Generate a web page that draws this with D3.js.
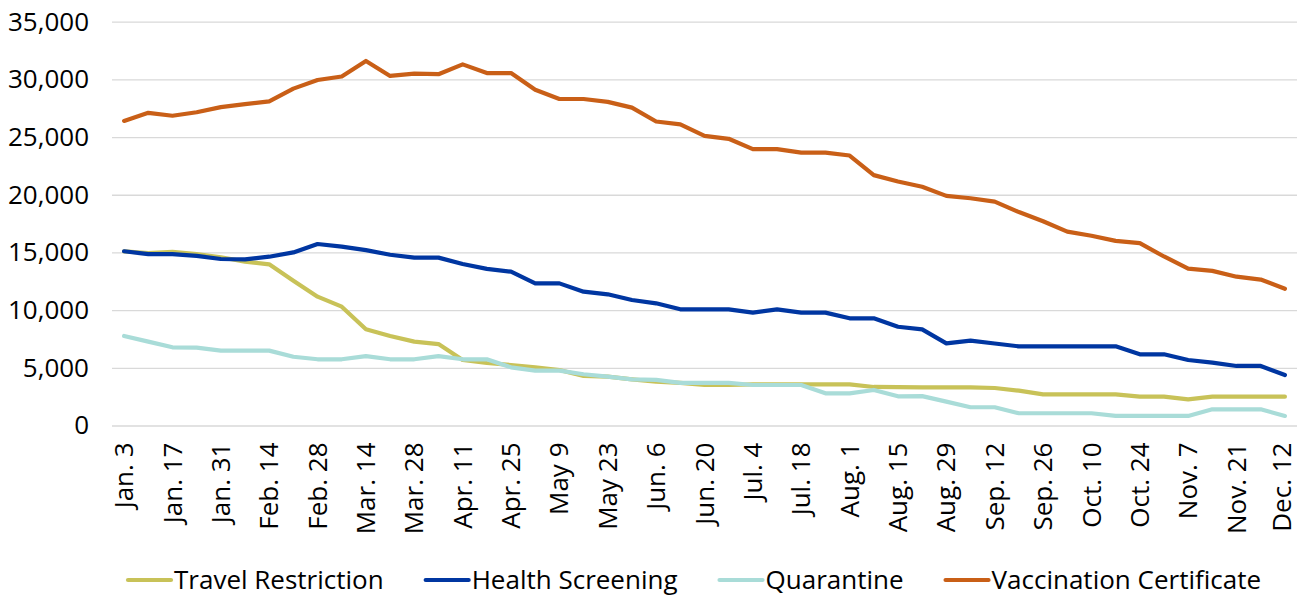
<!DOCTYPE html>
<html>
<head>
<meta charset="utf-8">
<script src="https://cdn.jsdelivr.net/npm/d3@7"></script>
<style>
  html, body { margin: 0; padding: 0; background: #ffffff; }
  svg { display: block; }
  text { font-family: "Open Sans", "Noto Sans", sans-serif; fill: #000; }
</style>
</head>
<body>
<svg id="chart" width="1299" height="596"></svg>
<script>
const categories = ["Jan. 3","Jan. 10","Jan. 17","Jan. 24","Jan. 31","Feb. 7","Feb. 14","Feb. 21","Feb. 28","Mar. 7",
  "Mar. 14","Mar. 21","Mar. 28","Apr. 4","Apr. 11","Apr. 18","Apr. 25","May 2","May 9","May 16",
  "May 23","May 30","Jun. 6","Jun. 13","Jun. 20","Jun. 27","Jul. 4","Jul. 11","Jul. 18","Jul. 25",
  "Aug. 1","Aug. 8","Aug. 15","Aug. 22","Aug. 29","Sep. 5","Sep. 12","Sep. 19","Sep. 26","Oct. 3",
  "Oct. 10","Oct. 17","Oct. 24","Oct. 31","Nov. 7","Nov. 14","Nov. 21","Nov. 28","Dec. 12"];

const travelRestriction = [15100,14950,15060,14860,14580,14200,13970,12550,11170,10300,
  8340,7760,7270,7060,5680,5420,5240,5040,4810,4290,
  4230,4000,3800,3700,3510,3510,3570,3570,3570,3570,
  3570,3340,3320,3310,3310,3310,3250,3020,2700,2700,
  2700,2700,2500,2500,2270,2500,2500,2500,2500];

const healthScreening = [15100,14850,14860,14700,14430,14400,14630,15000,15730,15500,
  15200,14800,14550,14550,14000,13580,13330,12320,12320,11600,
  11370,10880,10590,10070,10070,10070,9780,10070,9780,9780,
  9290,9290,8560,8330,7120,7350,7110,6860,6860,6860,
  6860,6860,6170,6170,5680,5450,5160,5160,4380];

const quarantine = [7760,7270,6780,6750,6490,6490,6490,5960,5740,5740,
  6020,5740,5740,6020,5740,5740,5040,4750,4750,4440,
  4230,4000,3950,3700,3700,3700,3510,3510,3510,2790,
  2790,3080,2530,2550,2070,1580,1580,1060,1060,1060,
  1060,830,830,830,830,1400,1400,1400,830];

const vaccinationCertificate = [26400,27100,26850,27150,27600,27850,28100,29200,29950,30250,
  31600,30300,30500,30450,31300,30550,30550,29100,28300,28300,
  28050,27550,26350,26100,25100,24850,23950,23950,23650,23650,
  23400,21700,21150,20700,19900,19700,19400,18500,17700,16800,
  16450,16000,15800,14650,13600,13400,12900,12650,11850];

const seriesNames = ["Travel Restriction","Health Screening","Quarantine","Vaccination Certificate"];
const seriesColors = ["#c8c258","#0036a1","#a9dcd8","#c95f17"];
const yTicks = [0,5000,10000,15000,20000,25000,30000,35000];

const seriesValues = [travelRestriction, healthScreening, quarantine, vaccinationCertificate];
const series = seriesNames.map((name, k) => ({ name, color: seriesColors[k], values: seriesValues[k] }));

const svg = d3.select("#chart");
const plotLeft = 112, plotRight = 1297, plotTop = 21.7, plotBottom = 425.5;

const x = d3.scalePoint().domain(categories).range([plotLeft, plotRight]).padding(0.5);
const y = d3.scaleLinear().domain([0, 35000]).range([plotBottom, plotTop]);

// gridlines + y axis
const yAxis = svg.append("g")
  .attr("transform", `translate(${plotLeft},0)`)
  .call(d3.axisLeft(y).tickValues(yTicks).tickFormat(d3.format(",")).tickSize(-(plotRight - plotLeft)).tickPadding(23));
yAxis.select(".domain").remove();
yAxis.selectAll(".tick line").attr("stroke", "#d9d9d9").attr("stroke-width", 1.3);
yAxis.selectAll(".tick text").attr("font-size", 26).attr("font-family", '"Open Sans", sans-serif').attr("fill", "#000");

// x axis
const xLabels = categories.filter((c, i) => i % 2 === 0);
const xAxis = svg.append("g")
  .attr("transform", `translate(0,${plotBottom})`)
  .call(d3.axisBottom(x).tickValues(xLabels).tickSize(0));
xAxis.select(".domain").remove();
xAxis.selectAll(".tick text")
  .attr("font-size", 26)
  .attr("font-family", '"Open Sans", sans-serif')
  .attr("fill", "#000")
  .attr("text-anchor", "end")
  .attr("transform", "translate(0,17) rotate(-90)")
  .attr("x", 0)
  .attr("y", 0)
  .attr("dy", (d, i) => i === xLabels.length - 1 ? "0.23em" : "0.33em");

// lines
const line = d3.line()
  .x((d, i) => x(categories[i]))
  .y(d => y(d));

svg.append("g").selectAll("path")
  .data(series)
  .join("path")
  .attr("d", d => line(d.values))
  .attr("fill", "none")
  .attr("stroke", d => d.color)
  .attr("stroke-width", 4.2)
  .attr("stroke-linejoin", "round")
  .attr("stroke-linecap", "round");

// legend
const legend = svg.append("g").attr("class", "legend");
const legendY = 580;
const items = legend.selectAll("g").data(series).join("g");
items.append("line")
  .attr("x1", 0).attr("x2", 43)
  .attr("y1", 0).attr("y2", 0)
  .attr("stroke", d => d.color)
  .attr("stroke-width", 4.2)
  .attr("stroke-linecap", "round");
items.append("text")
  .attr("x", 46)
  .attr("y", 0)
  .attr("dy", "0.33em")
  .attr("font-size", 26)
  .text(d => d.name);

let widths = [];
items.each(function() {
  widths.push(46 + d3.select(this).select("text").node().getComputedTextLength());
});
const gap = 42;
let cx = 128;
items.attr("transform", (d, i) => {
  const t = `translate(${cx},${legendY})`;
  cx += widths[i] + gap;
  return t;
});
</script>
</body>
</html>
